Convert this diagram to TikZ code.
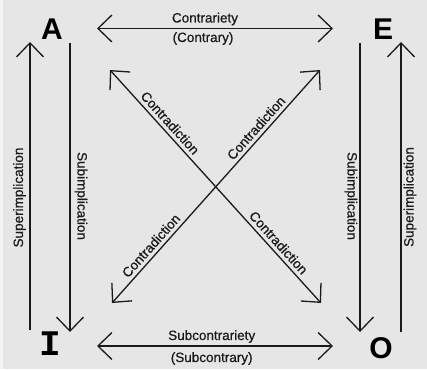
\documentclass[tikz,border=0pt]{standalone}
\usepackage{fontspec}
\setmainfont{Liberation Sans}
\newfontfamily\lblfont{Liberation Sans}[FakeBold=0.6]
\newfontfamily\slabfont{Liberation Mono}
\usetikzlibrary{arrows.meta}
\definecolor{bg}{HTML}{E6E6E6}
\definecolor{ink}{HTML}{1A1A1A}
\begin{document}
\begin{tikzpicture}[x=1pt,y=-1pt,
  conn/.style={draw=ink, line width=1.3pt},
  arr/.style={-{Straight Barb[length=14pt,width=27pt,line width=1.3pt]}},
  darr/.style={{Straight Barb[length=14pt,width=27pt,line width=1.3pt]}-{Straight Barb[length=14pt,width=27pt,line width=1.3pt]}},
  lbl/.style={font=\lblfont\fontsize{13.5}{15}\selectfont, inner sep=0pt, text=ink},
  corner/.style={font=\bfseries\fontsize{30}{30}\selectfont, inner sep=0pt, text=black}]
\fill[bg] (0,0) rectangle (427,369);
\fill[white!55!bg] (0,0) rectangle (3,369);
\useasboundingbox (0,0) rectangle (427,369);

% corner letters
\node[corner] (A) at (52,29) {A};
\node[corner] (E) at (383,29) {E};
\node[corner, font=\slabfont\bfseries\fontsize{36}{36}\selectfont] (I) at (50,344) {I};
\node[corner] (O) at (381,348) {O};

% end points
\coordinate (ctL) at (97,28.5);
\coordinate (ctR) at (333,28.5);
\coordinate (scL) at (97,346);
\coordinate (scR) at (333,346);
\coordinate (loB) at (30,330);
\coordinate (loT) at (30,42);
\coordinate (liT) at (70,43);
\coordinate (liB) at (70,332);
\coordinate (riT) at (360,43);
\coordinate (riB) at (360,332);
\coordinate (roB) at (401,332);
\coordinate (roT) at (401,42);
\coordinate (daA) at (110,70);
\coordinate (daO) at (321,303);
\coordinate (diI) at (112,303);
\coordinate (diE) at (320,70);

% horizontal arrows
\draw[conn, darr] (ctL) -- (ctR);
\draw[conn, darr] (scL) -- (scR);
\node[lbl] (contrariety) at (205,19) {Contrariety};
\node[lbl] (contrary) at (203,38.5) {(Contrary)};
\node[lbl] (subcontrariety) at (211.7,336.5) {Subcontrariety};
\node[lbl] (subcontrary) at (211.7,358.5) {(Subcontrary)};

% vertical arrows
\draw[conn, arr] (loB) -- (loT);
\draw[conn, arr] (liT) -- (liB);
\draw[conn, arr] (riT) -- (riB);
\draw[conn, arr] (roB) -- (roT);
\node[lbl, rotate=90] (supL) at (19.5,197.5) {Superimplication};
\node[lbl, rotate=-90] (subL) at (81,196) {Subimplication};
\node[lbl, rotate=-90] (subR) at (351,196) {Subimplication};
\node[lbl, rotate=90] (supR) at (410,197) {Superimplication};

% diagonals
\draw[conn, darr] (daA) -- (daO)
  node[lbl, sloped, above=3.5pt, pos=0.253] (c1) {Contradiction}
  node[lbl, sloped, above=3.5pt, pos=0.767] (c2) {Contradiction};
\draw[conn, darr] (diI) -- (diE)
  node[lbl, sloped, above=3.5pt, pos=0.22] (c3) {Contradiction}
  node[lbl, sloped, above=3.5pt, pos=0.725] (c4) {Contradiction};
\end{tikzpicture}
\end{document}
